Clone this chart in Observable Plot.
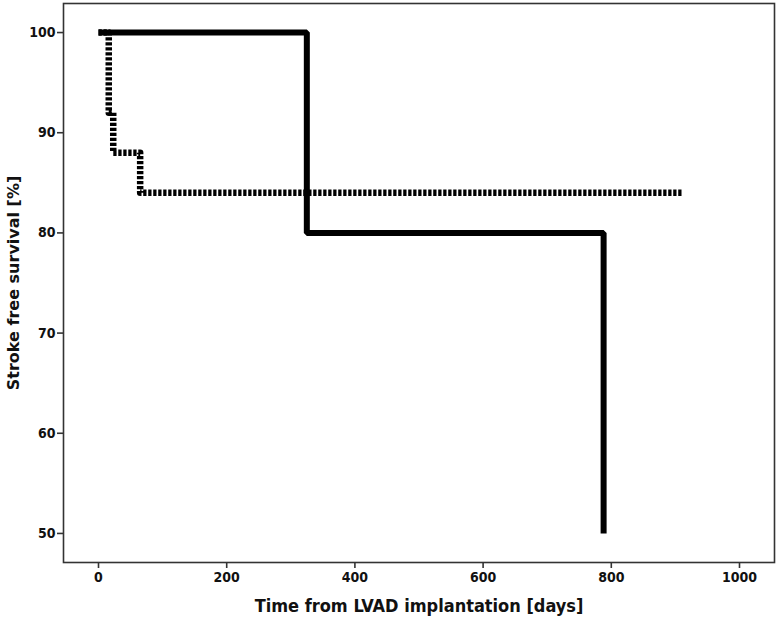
<!DOCTYPE html>
<html>
<head>
<meta charset="utf-8">
<script src="https://cdn.jsdelivr.net/npm/d3@7"></script>
<script src="https://cdn.jsdelivr.net/npm/@observablehq/plot@0.6"></script>
<style>
  html, body { margin: 0; padding: 0; background: #fff; }
  #chart svg { display: block; }
  #chart svg g[aria-label="x-axis tick label"] text,
  #chart svg g[aria-label="y-axis tick label"] text {
    font-family: "DejaVu Sans Condensed", "Liberation Sans Narrow", "Liberation Sans", sans-serif;
    font-stretch: condensed;
    font-weight: bold; font-size: 14px; fill: #111;
  }
  #chart svg g[aria-label="x-axis label"] text {
    font-family: "DejaVu Sans Condensed", "Liberation Sans Narrow", "Liberation Sans", sans-serif;
    font-stretch: condensed;
    font-weight: bold; font-size: 18px; fill: #111;
  }
  #chart svg g[aria-label="y-axis label"] text {
    font-family: "DejaVu Sans", "Liberation Sans", sans-serif;
    font-weight: bold; font-size: 16px; fill: #111;
  }
</style>
</head>
<body>
<div id="chart"></div>
<script>
// Group 1 (solid line): Kaplan-Meier steps
const solidDays = [0, 325, 788];
const solidSurvival = [100, 80, 50];

// Group 2 (dotted line): Kaplan-Meier steps
const dottedDays = [0, 16, 23, 65, 910];
const dottedSurvival = [100, 92, 88, 84, 84];

const xTicks = [0, 200, 400, 600, 800, 1000];
const yTicks = [50, 60, 70, 80, 90, 100];

const solid = solidDays.map((d, i) => ({day: d, s: solidSurvival[i]}));
const dotted = dottedDays.map((d, i) => ({day: d, s: dottedSurvival[i]}));

const chart = Plot.plot({
  width: 778,
  height: 622,
  marginLeft: 63,
  marginRight: 4,
  marginTop: 3,
  marginBottom: 60,
  style: {background: "#fff", overflow: "visible"},
  x: {domain: [-54.6, 1054.6]},
  y: {domain: [47.1, 102.9]},
  marks: [
    Plot.frame({stroke: "#333", strokeWidth: 1.6}),
    Plot.axisX({
      ticks: xTicks, tickFormat: d => String(d), tickSize: 6, tickPadding: 4,
      stroke: "#333", strokeWidth: 1.6,
      label: "Time from LVAD implantation [days]", labelAnchor: "center", labelArrow: "none",
      labelOffset: 49
    }),
    Plot.axisY({
      ticks: yTicks, tickFormat: d => String(d), tickSize: 6, tickPadding: 2,
      stroke: "#333", strokeWidth: 1.6,
      label: "Stroke free survival [%]", labelAnchor: "center", labelArrow: "none",
      labelOffset: 56
    }),
    Plot.line(dotted, {
      x: "day", y: "s", curve: "step-after",
      stroke: "#000", strokeWidth: 6.5, strokeDasharray: "3.3,1.7", strokeLinecap: "butt"
    }),
    Plot.line(solid, {
      x: "day", y: "s", curve: "step-after",
      stroke: "#000", strokeWidth: 6, strokeLinecap: "butt", strokeLinejoin: "miter"
    })
  ]
});
document.getElementById("chart").appendChild(chart);
</script>
</body>
</html>
